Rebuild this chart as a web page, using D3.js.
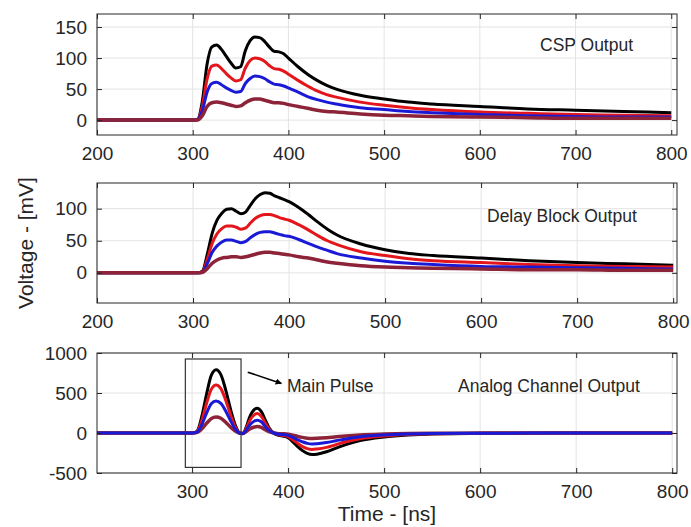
<!DOCTYPE html>
<html>
<head>
<meta charset="utf-8">
<script src="https://cdn.jsdelivr.net/npm/d3@7"></script>
<style>
  body { margin: 0; background: #fff; }
  svg text { font-family: "Liberation Sans", Arial, sans-serif; fill: #262626; }
</style>
</head>
<body>
<script>
// time axis of the CSP and delay-block traces [ns]
var tSlow = [200, 300, 305, 310, 315, 320, 325, 330, 335, 340, 345, 350, 355, 360, 365, 370, 375, 380, 385, 390, 395, 400,
             410, 420, 430, 440, 450, 475, 500, 525, 550, 600, 650, 700, 750, 800];

// CSP output [mV]
var cspBlack  = [0, 0, 1, 30, 90, 118, 121, 114, 103, 92, 84, 86, 112, 128, 134, 133, 127, 118, 111, 110, 107, 100,
                 86, 74, 64, 56, 50, 40, 34, 29, 26, 22, 18, 16, 14, 12];
var cspRed    = [0, 0, 1, 22, 66, 87, 89, 83, 75, 68, 63, 65, 84, 96, 100, 99, 95, 88, 83, 82, 79, 74,
                 64, 55, 47, 41, 37, 29, 24, 20, 17, 13, 11, 9, 8, 7];
var cspBlue   = [0, 0, 1, 15, 45, 59, 61, 57, 52, 48, 45, 46, 59, 67, 71, 70, 67, 62, 58, 57, 55, 52,
                 45, 38, 33, 29, 26, 20, 17, 14, 12, 9, 7, 6, 5, 5];
var cspMaroon = [0, 0, 0, 7, 22, 28, 29, 28, 26, 24, 22, 23, 28, 32, 34, 34, 32, 30, 28, 28, 27, 25,
                 22, 19, 16, 14, 13, 10, 8, 7, 6, 5, 4, 3, 3, 3];

// delay block output [mV]
var dlyBlack  = [0, 0, 0, 3, 30, 62, 82, 93, 99, 100, 96, 92, 95, 106, 116, 122, 125, 124, 120, 117, 114, 111,
                 102, 91, 79, 68, 59, 45, 36, 30, 27, 23, 19, 16, 14, 12];
var dlyRed    = [0, 0, 0, 2, 22, 46, 61, 69, 73, 73, 71, 68, 70, 78, 85, 89, 91, 91, 89, 86, 84, 82,
                 75, 67, 58, 50, 44, 33, 27, 22, 19, 16, 13, 11, 10, 9];
var dlyBlue   = [0, 0, 0, 1, 15, 32, 42, 48, 51, 51, 49, 47, 49, 55, 60, 63, 64, 64, 62, 60, 58, 57,
                 52, 46, 40, 35, 30, 23, 18, 15, 13, 10, 9, 8, 7, 6];
var dlyMaroon = [0, 0, 0, 1, 7, 15, 20, 23, 24, 25, 25, 24, 25, 27, 29, 31, 32, 32, 31, 30, 29, 28,
                 25, 23, 20, 17, 15, 11, 9, 8, 7, 6, 5, 5, 4, 4];

// time axis of the analog channel traces [ns]
var tFast = [201, 300, 305, 310, 315, 320, 325, 330, 335, 340, 345, 350, 353, 356, 360, 365, 368, 372, 376, 380, 385,
             390, 395, 400, 405, 410, 415, 420, 425, 430, 440, 450, 460, 475, 500, 525, 550, 600, 650, 700, 800];

// analog channel output [mV]
var anaBlack  = [0, 0, 20, 200, 480, 720, 790, 730, 540, 300, 100, -5, -10, 60, 200, 295, 310, 270, 170, 70, 0,
                 -30, -40, -60, -110, -170, -220, -255, -270, -265, -235, -190, -145, -95, -50, -25, -12, -5, -2, 0, 0];
var anaRed    = [0, 0, 15, 150, 365, 545, 600, 555, 410, 230, 75, -4, -8, 45, 155, 230, 245, 210, 130, 55, 0,
                 -23, -30, -45, -85, -130, -170, -195, -205, -200, -180, -145, -110, -72, -38, -19, -9, -4, -2, 0, 0];
var anaBlue   = [0, 0, 10, 100, 245, 365, 400, 370, 275, 155, 50, -3, -5, 30, 100, 150, 160, 140, 85, 35, 0,
                 -15, -20, -30, -55, -85, -110, -130, -137, -135, -120, -97, -74, -48, -25, -13, -6, -3, -1, 0, 0];
var anaMaroon = [0, 0, 5, 50, 120, 180, 200, 185, 135, 75, 25, -1, -3, 15, 50, 75, 80, 70, 42, 18, 0,
                 -8, -10, -15, -28, -43, -55, -65, -68, -67, -60, -48, -37, -24, -13, -6, -3, -1, 0, 0, 0];

var xTicksSlow = [200, 300, 400, 500, 600, 700, 800];
var xTicksFast = [300, 400, 500, 600, 700, 800];
var yTicksCsp = [0, 50, 100, 150];
var yTicksDly = [0, 50, 100];
var yTicksAna = [-500, 0, 500, 1000];

var colBlack = "#000000", colRed = "#e3161c", colBlue = "#1a1ad6", colMaroon = "#8c2338";

var W = 691, H = 527;
var svg = d3.select("body").append("svg").attr("width", W).attr("height", H);

// plain number labels, hyphen for negatives like the original
function plain(d) { return String(d); }

function panel(opt) {
  var x = d3.scaleLinear().domain(opt.xdom).range([97, 677]);
  var y = d3.scaleLinear().domain(opt.ydom).range([opt.bottom, opt.top]);
  var g = svg.append("g");

  // grid
  g.selectAll(".gx").data(opt.xticks).enter().append("line")
    .attr("x1", function(d) { return x(d); }).attr("x2", function(d) { return x(d); })
    .attr("y1", opt.top).attr("y2", opt.bottom)
    .attr("stroke", "#e3e3e3").attr("stroke-width", 1);
  g.selectAll(".gy").data(opt.yticks).enter().append("line")
    .attr("x1", 97).attr("x2", 677)
    .attr("y1", function(d) { return y(d); }).attr("y2", function(d) { return y(d); })
    .attr("stroke", "#e3e3e3").attr("stroke-width", 1);

  // traces
  var line = d3.line()
    .x(function(d) { return x(d[0]); })
    .y(function(d) { return y(d[1]); })
    .curve(d3.curveMonotoneX);
  opt.series.forEach(function(s) {
    var pts = opt.t.map(function(t, i) { return [t, s.v[i]]; });
    g.append("path").datum(pts)
      .attr("d", line)
      .attr("fill", "none")
      .attr("stroke", s.c)
      .attr("stroke-width", s.w || 3)
      .attr("stroke-linejoin", "round");
  });

  // axes (inward ticks on all four sides, MATLAB style)
  var bot = d3.axisBottom(x).tickValues(opt.xticks).tickSize(-5).tickPadding(12).tickFormat(plain);
  var top = d3.axisTop(x).tickValues(opt.xticks).tickSize(-5).tickFormat("");
  var left = d3.axisLeft(y).tickValues(opt.yticks).tickSize(-5).tickPadding(10).tickFormat(plain);
  var right = d3.axisRight(y).tickValues(opt.yticks).tickSize(-5).tickFormat("");

  [[bot, "translate(0," + opt.bottom + ")"], [top, "translate(0," + opt.top + ")"],
   [left, "translate(97,0)"], [right, "translate(677,0)"]].forEach(function(a) {
    var ax = g.append("g").attr("transform", a[1]).call(a[0]);
    ax.select(".domain").remove();
    ax.selectAll("line").attr("stroke", "#262626");
    ax.selectAll("text").style("font-size", "19px").attr("fill", "#262626");
  });

  g.append("rect")
    .attr("x", 97).attr("y", opt.top)
    .attr("width", 580).attr("height", opt.bottom - opt.top)
    .attr("fill", "none").attr("stroke", "#262626").attr("stroke-width", 1);

  g.append("text").attr("x", opt.labelX).attr("y", opt.labelY)
    .style("font-size", "17.5px").text(opt.label);
  return {x: x, y: y, g: g};
}

panel({
  xdom: [200, 806], ydom: [-24, 171], top: 14, bottom: 135,
  xticks: xTicksSlow, yticks: yTicksCsp, t: tSlow,
  series: [{v: cspBlack, c: colBlack}, {v: cspRed, c: colRed}, {v: cspBlue, c: colBlue}, {v: cspMaroon, c: colMaroon, w: 3.5}],
  label: "CSP Output", labelX: 540, labelY: 51
});

panel({
  xdom: [200, 804], ydom: [-47, 140], top: 183, bottom: 303,
  xticks: xTicksSlow, yticks: yTicksDly, t: tSlow,
  series: [{v: dlyBlack, c: colBlack}, {v: dlyRed, c: colRed}, {v: dlyBlue, c: colBlue}, {v: dlyMaroon, c: colMaroon, w: 3.5}],
  label: "Delay Block Output", labelX: 487, labelY: 222
});

var p3 = panel({
  xdom: [201, 805], ydom: [-500, 1000], top: 353, bottom: 473,
  xticks: xTicksFast, yticks: yTicksAna, t: tFast,
  series: [{v: anaBlack, c: colBlack}, {v: anaRed, c: colRed}, {v: anaMaroon, c: colMaroon, w: 3.5}, {v: anaBlue, c: colBlue}],
  label: "Analog Channel Output", labelX: 458, labelY: 392
});

// main pulse annotation
p3.g.append("rect")
  .attr("x", p3.x(293)).attr("y", p3.y(925))
  .attr("width", p3.x(351) - p3.x(293)).attr("height", p3.y(-430) - p3.y(925))
  .attr("fill", "none").attr("stroke", "#333").attr("stroke-width", 1.2);

svg.append("defs").append("marker")
  .attr("id", "ah").attr("viewBox", "0 0 10 10").attr("refX", 9).attr("refY", 5)
  .attr("markerWidth", 4).attr("markerHeight", 4).attr("orient", "auto")
  .append("path").attr("d", "M0,0L10,5L0,10z").attr("fill", "#000");

p3.g.append("line")
  .attr("x1", p3.x(358)).attr("y1", p3.y(760))
  .attr("x2", p3.x(393)).attr("y2", p3.y(620))
  .attr("stroke", "#000").attr("stroke-width", 1.6)
  .attr("marker-end", "url(#ah)");

p3.g.append("text").attr("x", 287).attr("y", 392)
  .style("font-size", "17.5px").text("Main Pulse");

// axis titles
svg.append("text")
  .attr("transform", "translate(33,243) rotate(-90)")
  .attr("text-anchor", "middle")
  .style("font-size", "21px").text("Voltage - [mV]");

svg.append("text")
  .attr("x", 387).attr("y", 521)
  .attr("text-anchor", "middle")
  .style("font-size", "21px").text("Time - [ns]");
</script>
</body>
</html>
